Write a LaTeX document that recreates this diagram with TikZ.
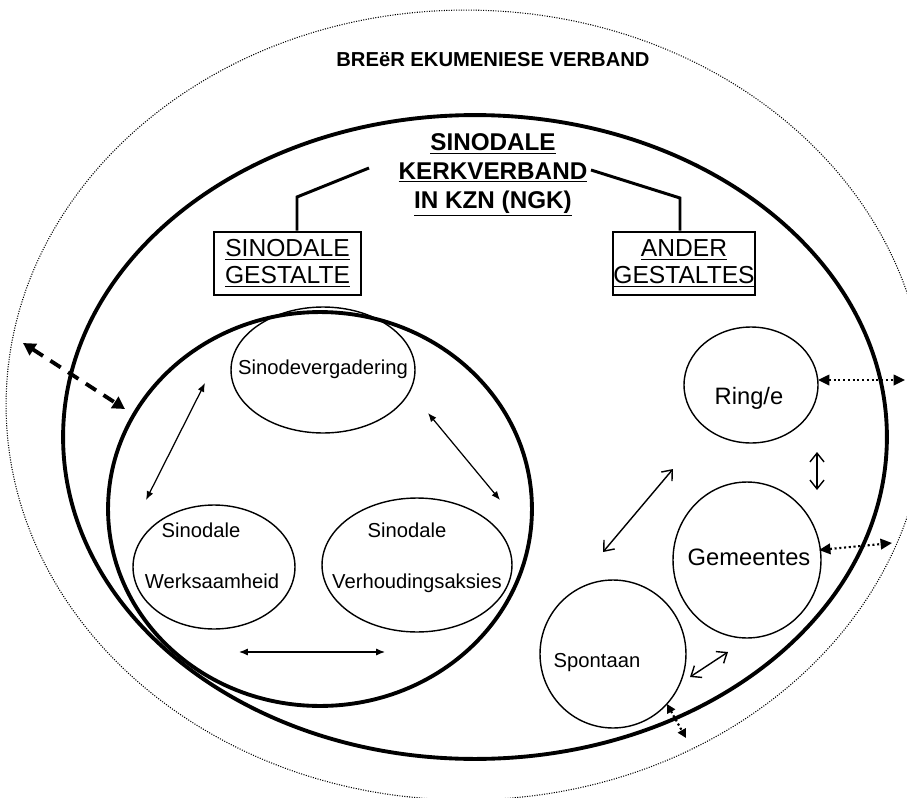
\documentclass[tikz,border=0pt]{standalone}
\usepackage{fontspec}
\setmainfont{Liberation Sans}
\usetikzlibrary{shapes.geometric,arrows.meta}

\begin{document}
\begin{tikzpicture}[x=0.02cm,y=-0.02cm,
  oval/.style={draw,ellipse,line width=0.8pt,inner sep=0pt},
  lbl/.style={font=\fontsize{11.5}{13}\selectfont,inner sep=0pt,anchor=base},
  big lbl/.style={lbl,font=\fontsize{13.5}{15}\selectfont},
  gestalte/.style={draw,line width=1.5pt,minimum height=1.26cm,inner sep=0pt,
    align=center,font=\fontsize{14}{15.5}\selectfont}]
\useasboundingbox (0,0) rectangle (907,798);

\tikzset{
  thin arrow/.style={{Latex[length=5pt,width=4pt]}-{Latex[length=5pt,width=4pt]},line width=0.7pt},
  open arrow/.style={{Straight Barb[length=5pt,width=8pt]}-{Straight Barb[length=5pt,width=8pt]},line width=0.8pt},
  dot arrow/.style={{Triangle[length=6.5pt,width=6pt]}-{Triangle[length=6.5pt,width=6pt]},
    line width=1.2pt,dash pattern=on 1.2pt off 1.5pt},
  dash arrow/.style={{Triangle[length=7pt,width=7.5pt]}-{Triangle[length=7pt,width=7.5pt]},
    line width=2.2pt,dash pattern=on 7pt off 5pt}
}

% houers
\node[draw,ellipse,line width=0.6pt,dash pattern=on 0.6pt off 0.8pt,
  minimum width=18.4cm,minimum height=15.8cm] (breer) at (466,405) {};
\node[lbl,font=\bfseries\fontsize{11.5}{13}\selectfont] (breertxt) at (493,66) {BREëR EKUMENIESE VERBAND};
\node[draw,ellipse,line width=2.2pt,minimum width=16.48cm,minimum height=12.88cm] (kerkverband) at (475,437) {};
\node[draw,ellipse,line width=2.2pt,minimum width=8.48cm,minimum height=7.88cm] (sinodaal) at (320,509) {};

\node[align=center,inner sep=0pt,font=\bfseries\fontsize{13.8}{16.4}\selectfont] (kerk) at (493,175)
  {\underline{SINODALE}\\\underline{KERKVERBAND}\\\underline{IN KZN (NGK)}};

\node[gestalte,minimum width=2.94cm] (sgest) at (287.5,263.5) {\underline{SINODALE}\\\underline{GESTALTE}};
\node[gestalte,minimum width=2.84cm] (agest) at (684,263.5) {\underline{ANDER}\\\underline{GESTALTES}};

\coordinate (lvan) at (369,168);
\coordinate (lknik) at (297,197);
\coordinate (rvan) at (591,170);
\coordinate (rknik) at (680,198);
\draw[line width=1.7pt] (lvan) -- (lknik) -- (lknik |- sgest.north);
\draw[line width=1.7pt] (rvan) -- (rknik) -- (rknik |- agest.north);

% sinodale gestalte
\node[oval,minimum width=3.68cm,minimum height=2.52cm] (sinode) at (323,370) {};
\node[lbl] at (323,374) {Sinodevergadering};
\node[oval,minimum width=3.24cm,minimum height=2.48cm] (werk) at (214,567) {};
\node[lbl] at (201,537) {Sinodale};
\node[lbl] at (212,588) {Werksaamheid};
\node[oval,minimum width=3.8cm,minimum height=2.68cm] (verh) at (417,565) {};
\node[lbl] at (407,537) {Sinodale};
\node[lbl] at (417,588) {Verhoudingsaksies};

% ander gestaltes
\node[oval,minimum width=2.68cm,minimum height=2.32cm] (ring) at (751,385) {};
\node[big lbl] at (749,404) {Ring/e};
\node[oval,minimum width=2.96cm,minimum height=3.12cm] (gem) at (747,560) {};
\node[big lbl] at (749,565) {Gemeentes};
\node[oval,minimum width=2.92cm,minimum height=2.96cm] (spont) at (613,654) {};
\node[lbl] at (597,667) {Spontaan};

\coordinate (a1) at (205,383);
\coordinate (a2) at (146,500);
\coordinate (b1) at (428,413);
\coordinate (b2) at (500,500);
\coordinate (c1) at (239,652);
\coordinate (c2) at (385,652);
\draw[thin arrow] (a1) -- (a2);
\draw[thin arrow] (b1) -- (b2);
\draw[thin arrow] (c1) -- (c2);

\coordinate (d1) at (673,469);
\coordinate (d2) at (603,552);
\coordinate (e1) at (817,452);
\coordinate (e2) at (817,490);
\coordinate (f1) at (690,677);
\coordinate (f2) at (728,652);
\draw[open arrow] (d1) -- (d2);
\draw[open arrow] (e1) -- (e2);
\draw[open arrow] (f1) -- (f2);

\coordinate (g1) at (818,380);
\coordinate (g2) at (905,380);
\coordinate (h1) at (819,550);
\coordinate (h2) at (892,543);
\coordinate (k1) at (667,704);
\coordinate (k2) at (686,738);
\draw[dot arrow] (g1) -- (g2);
\draw[dot arrow] (h1) -- (h2);
\draw[dot arrow,{Triangle[length=5pt,width=5pt]}-{Triangle[length=5pt,width=5pt]}] (k1) -- (k2);

\coordinate (m1) at (23,343);
\coordinate (m2) at (125,409);
\draw[dash arrow] (m1) -- (m2);

\end{tikzpicture}
\end{document}
